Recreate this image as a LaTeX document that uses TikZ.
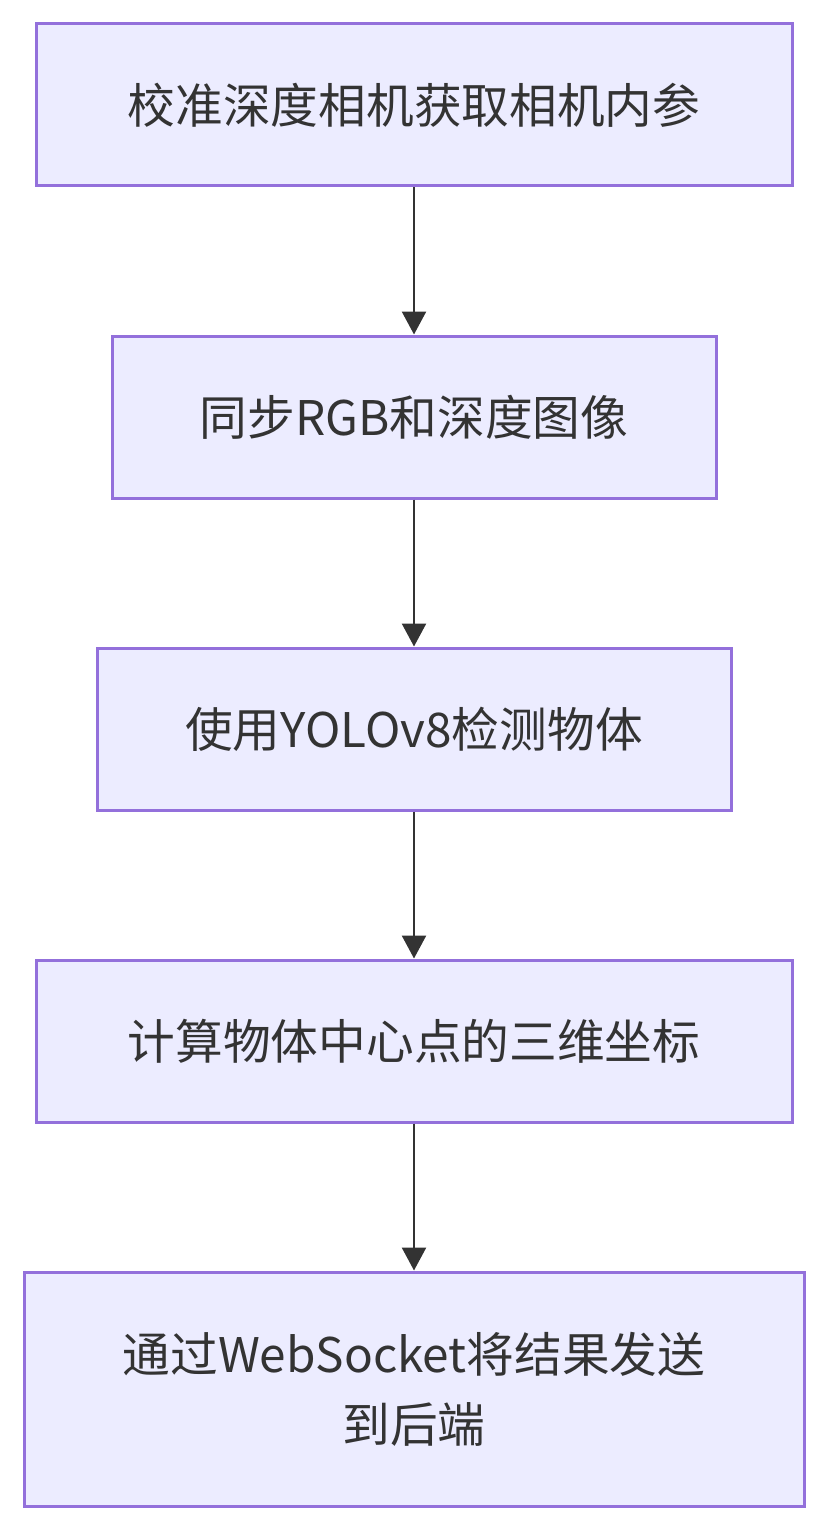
\documentclass[tikz,border=0pt]{standalone}
\usepackage{fontspec}
\setmainfont{Noto Sans CJK SC}
\usetikzlibrary{arrows.meta}
\definecolor{boxfill}{HTML}{ECECFF}
\definecolor{boxdraw}{HTML}{9370DB}
\definecolor{arrcol}{HTML}{333333}
\tikzset{
  stepbox/.style={draw=boxdraw, fill=boxfill, line width=3pt, rectangle,
    minimum height=162pt, inner sep=0pt, align=center,
    font=\fontsize{47.7pt}{70pt}\selectfont, text=arrcol},
  arr/.style={draw=arrcol, line width=2.5pt, -{Triangle[length=23pt,width=24pt]}}
}
\begin{document}
\begin{tikzpicture}[x=1pt,y=-1pt]
\useasboundingbox (0,0) rectangle (828,1530);
\node[stepbox, minimum width=756pt] (b1) at (414,105) {校准深度相机获取相机内参};
\node[stepbox, minimum width=604pt] (b2) at (414,417) {同步RGB和深度图像};
\node[stepbox, minimum width=634pt] (b3) at (414,729) {使用YOLOv8检测物体};
\node[stepbox, minimum width=756pt] (b4) at (414,1041) {计算物体中心点的三维坐标};
\node[stepbox, minimum width=780pt, minimum height=234pt] (b5) at (414,1389) {通过WebSocket将结果发送\\到后端};
\draw[arr] (b1) -- (b2);
\draw[arr] (b2) -- (b3);
\draw[arr] (b3) -- (b4);
\draw[arr] (b4) -- (b5);
\end{tikzpicture}
\end{document}
